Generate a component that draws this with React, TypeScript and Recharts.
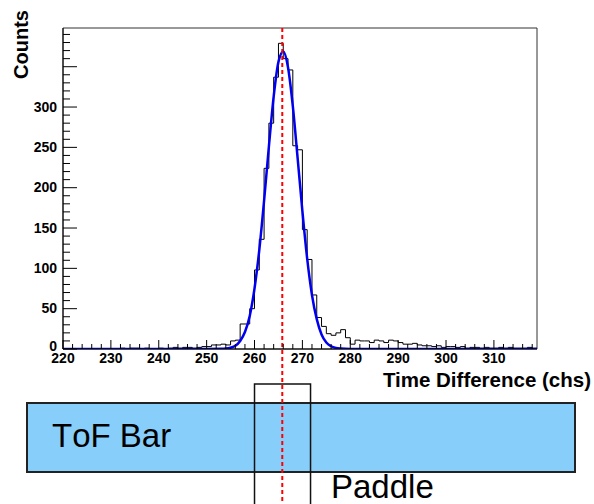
import {
  ComposedChart,
  Line,
  XAxis,
  YAxis,
  ReferenceLine,
  ReferenceArea,
  Customized,
} from "recharts";

// histogram: 1 ch bins starting at 220
const binLow = 220;
const counts = [
  0, 0, 0, 0, 0, 0, 0, 0, 0, 0, 0, 0,
  1, 0, 1, 1, 0, 1, 0, 0, 1, 0, 1, 2, 1, 2, 2, 1, 2, 3,
  3, 5, 5, 6, 5, 10, 11, 31, 31, 50,
  98, 136, 224, 280, 337, 379, 360, 346, 252, 247,
  148, 111, 67, 39, 28, 19, 17, 20, 24, 14,
  6, 11, 10, 10, 8, 11, 10, 8, 11, 10,
  8, 6, 6, 7, 5, 4, 4, 3, 4, 2,
  3, 3, 2, 3, 1, 2, 2, 1, 2, 1,
  1, 2, 1, 2, 1, 1, 1, 2, 1,
];

// gaussian fit
const fitX = [220, 240, 250, 253, 254, 255, 256, 257, 258, 259, 260, 261, 262, 263, 264, 265, 266, 267, 268, 269, 270, 271, 272, 273, 274, 275, 276, 277, 278, 280, 290, 319];
const fitY = [0, 0, 0, 0.2, 0.5, 1.6, 4, 10, 21, 41, 75, 123, 184, 251, 313, 356, 369, 349, 301, 237, 171, 112, 67, 37, 18, 8, 3.4, 1.3, 0.5, 0, 0, 0];

const xLabels = [220, 230, 240, 250, 260, 270, 280, 290, 300, 310];
const yLabels = [0, 50, 100, 150, 200, 250, 300];
const xDomain = [220, 319];
const yDomain = [0, 398];

const peakMark = 265.8;
const paddle = [260, 271.7];

const histData = counts.map((c, i) => ({ x: binLow + i, h: c }));
histData.push({ x: binLow + counts.length, h: counts[counts.length - 1] });
const fitData = fitX.map((x, i) => ({ x, f: fitY[i] }));

const xTicks: number[] = [];
for (let v = 220; v <= 318; v += 2) xTicks.push(v);
const yTicks: number[] = [];
for (let v = 0; v <= 390; v += 10) yTicks.push(v);

const FONT = "'Liberation Sans', Arial, Helvetica, sans-serif";

const XTick = (props: any) => {
  const { x, y, payload } = props;
  const v = payload.value;
  const major = v % 10 === 0;
  return (
    <g>
      <line x1={x} x2={x} y1={y} y2={y - (major ? 9 : 5)} stroke="#000" strokeWidth={1} />
      {xLabels.includes(v) && (
        <text x={x} y={y + 14} textAnchor="middle" fontSize={14} fontWeight="bold" fontFamily={FONT} fill="#000">
          {v}
        </text>
      )}
    </g>
  );
};

const YTick = (props: any) => {
  const { x, y, payload } = props;
  const v = payload.value;
  const major = v % 50 === 0;
  // the zero label sits a bit higher so it clears the 220 label
  const dy = v === 0 ? 1.5 : 4.8;
  return (
    <g>
      <line x1={x} x2={x + (major ? 14 : 7)} y1={y} y2={y} stroke="#000" strokeWidth={1} />
      {yLabels.includes(v) && (
        <text x={x - 6} y={y + dy} textAnchor="end" fontSize={14} fontWeight="bold" fontFamily={FONT} fill="#000">
          {v}
        </text>
      )}
    </g>
  );
};

const Titles = () => (
  <g fontFamily={FONT} fontWeight="bold" fill="#000">
    <text x={28} y={10} transform="rotate(-90 28 10)" textAnchor="end" fontSize={20}>
      Counts
    </text>
    <text x={591} y={387} textAnchor="end" fontSize={20.5}>
      Time Difference (chs)
    </text>
  </g>
);

// ToF bar drawn under the paddle outline
const PaddleShape = (p: any) => (
  <g>
    <rect x={27} y={403} width={548} height={69} fill="#87cefa" stroke="#222" strokeWidth={2} />
    <text x={52} y={447} fontSize={33} fontFamily={FONT} fill="#000" style={{ fontKerning: "none" }}>
      ToF Bar
    </text>
    <rect x={p.x} y={384} width={p.width} height={140} fill="none" stroke="#111" strokeWidth={1.5} />
    <text x={331} y={498} fontSize={33} fontFamily={FONT} fill="#000">
      Paddle
    </text>
  </g>
);

const MarkLine = (p: any) => (
  <line
    x1={p.x1}
    x2={p.x1}
    y1={Math.min(p.y1, p.y2)}
    y2={504}
    stroke="#ff0000"
    strokeWidth={2}
    strokeDasharray="4 3"
  />
);

export default function App() {
  return (
    <div style={{ position: "absolute", left: 0, top: 0, width: 594, height: 504, background: "#fff" }}>
      <ComposedChart width={594} height={504} margin={{ top: 28, right: 57, left: 0, bottom: 0 }}>
        <XAxis
          dataKey="x"
          type="number"
          domain={xDomain}
          ticks={xTicks}
          interval={0}
          tick={<XTick />}
          tickLine={false}
          tickSize={0}
          tickMargin={0}
          axisLine={{ stroke: "#000" }}
          height={155}
          allowDataOverflow
        />
        <YAxis
          type="number"
          domain={yDomain}
          ticks={yTicks}
          interval={0}
          tick={<YTick />}
          tickLine={false}
          tickSize={0}
          tickMargin={0}
          axisLine={{ stroke: "#000" }}
          width={63}
          allowDataOverflow
        />
        <ReferenceArea
          x1={xDomain[0]}
          x2={xDomain[1]}
          y1={yDomain[0]}
          y2={yDomain[1]}
          fill="none"
          stroke="#333"
          strokeWidth={1}
        />
        <ReferenceArea x1={paddle[0]} x2={paddle[1]} shape={PaddleShape} ifOverflow="visible" />
        <Line
          data={histData}
          dataKey="h"
          type="stepAfter"
          stroke="#000"
          strokeWidth={1}
          dot={false}
          isAnimationActive={false}
        />
        <Line
          data={fitData}
          dataKey="f"
          type="monotone"
          stroke="#0000ee"
          strokeWidth={2.5}
          dot={false}
          isAnimationActive={false}
        />
        <ReferenceLine x={peakMark} shape={MarkLine} ifOverflow="visible" />
        <Customized component={Titles} />
      </ComposedChart>
    </div>
  );
}
